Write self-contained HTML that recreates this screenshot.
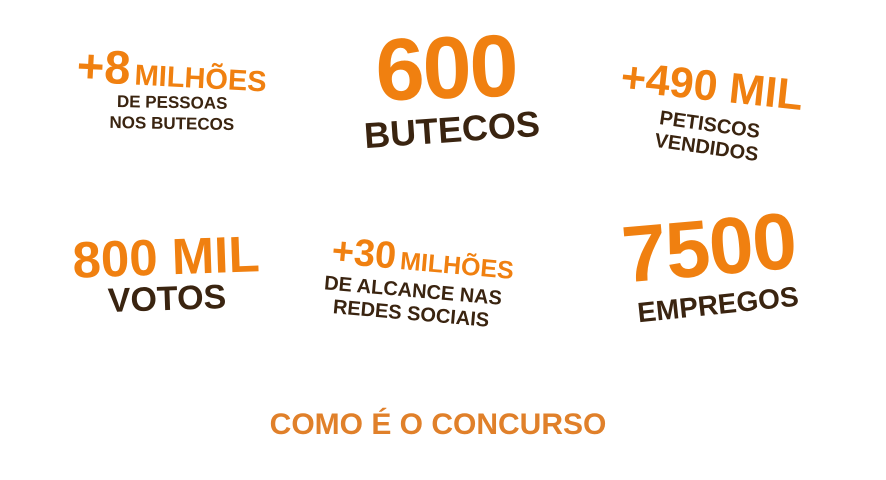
<!DOCTYPE html>
<html><head><meta charset="utf-8"><style>
html,body{margin:0;padding:0;background:#fff;}
#wrap{position:relative;width:886px;height:480px;overflow:hidden;font-family:"Liberation Sans",Arial,sans-serif;font-weight:bold;}
.t{position:absolute;white-space:nowrap;transform:translate(-50%,-50%);line-height:1;text-align:center;}
.o{color:#f08010;}
.d{color:#3a2410;}
</style></head><body>
<div id="wrap">
  <div class="t o" style="left:172px;top:70px;transform:translate(-50%,-50%) rotate(3deg);"><span style="font-size:47px">+8</span> <span style="font-size:29px">MILHÕES</span></div>
  <div class="t d" style="left:172px;top:113px;font-size:17px;line-height:21px;transform:translate(-50%,-50%) rotate(1deg);">DE PESSOAS<br>NOS BUTECOS</div>

  <div class="t o" style="left:446px;top:68px;font-size:88px;letter-spacing:-2px;transform:translate(-50%,-50%) rotate(-2deg);">600</div>
  <div class="t d" style="left:452px;top:130px;font-size:36px;transform:translate(-50%,-50%) rotate(-4deg);">BUTECOS</div>

  <div class="t o" style="left:712px;top:87px;font-size:43px;transform:translate(-50%,-50%) rotate(6deg);">+490 MIL</div>
  <div class="t d" style="left:708px;top:137px;font-size:20px;line-height:23px;transform:translate(-50%,-50%) rotate(8deg);">PETISCOS<br>VENDIDOS</div>

  <div class="t o" style="left:166px;top:257px;font-size:51px;transform:translate(-50%,-50%) rotate(-2deg);">800 MIL</div>
  <div class="t d" style="left:167px;top:299px;font-size:34px;transform:translate(-50%,-50%) rotate(-2deg);">VOTOS</div>

  <div class="t o" style="left:423px;top:259px;transform:translate(-50%,-50%) rotate(5deg);"><span style="font-size:38px">+30</span> <span style="font-size:25px">MILHÕES</span></div>
  <div class="t d" style="left:412px;top:303px;font-size:20px;line-height:23px;transform:translate(-50%,-50%) rotate(5deg);">DE ALCANCE NAS<br>REDES SOCIAIS</div>

  <div class="t o" style="left:709px;top:248px;font-size:80px;letter-spacing:-1px;transform:translate(-50%,-50%) rotate(-5deg);">7500</div>
  <div class="t d" style="left:718px;top:305px;font-size:28px;transform:translate(-50%,-50%) rotate(-6deg);">EMPREGOS</div>

  <div class="t" style="left:438px;top:425px;font-size:30px;color:#e0802a;">COMO É O CONCURSO</div>
</div>
</body></html>
